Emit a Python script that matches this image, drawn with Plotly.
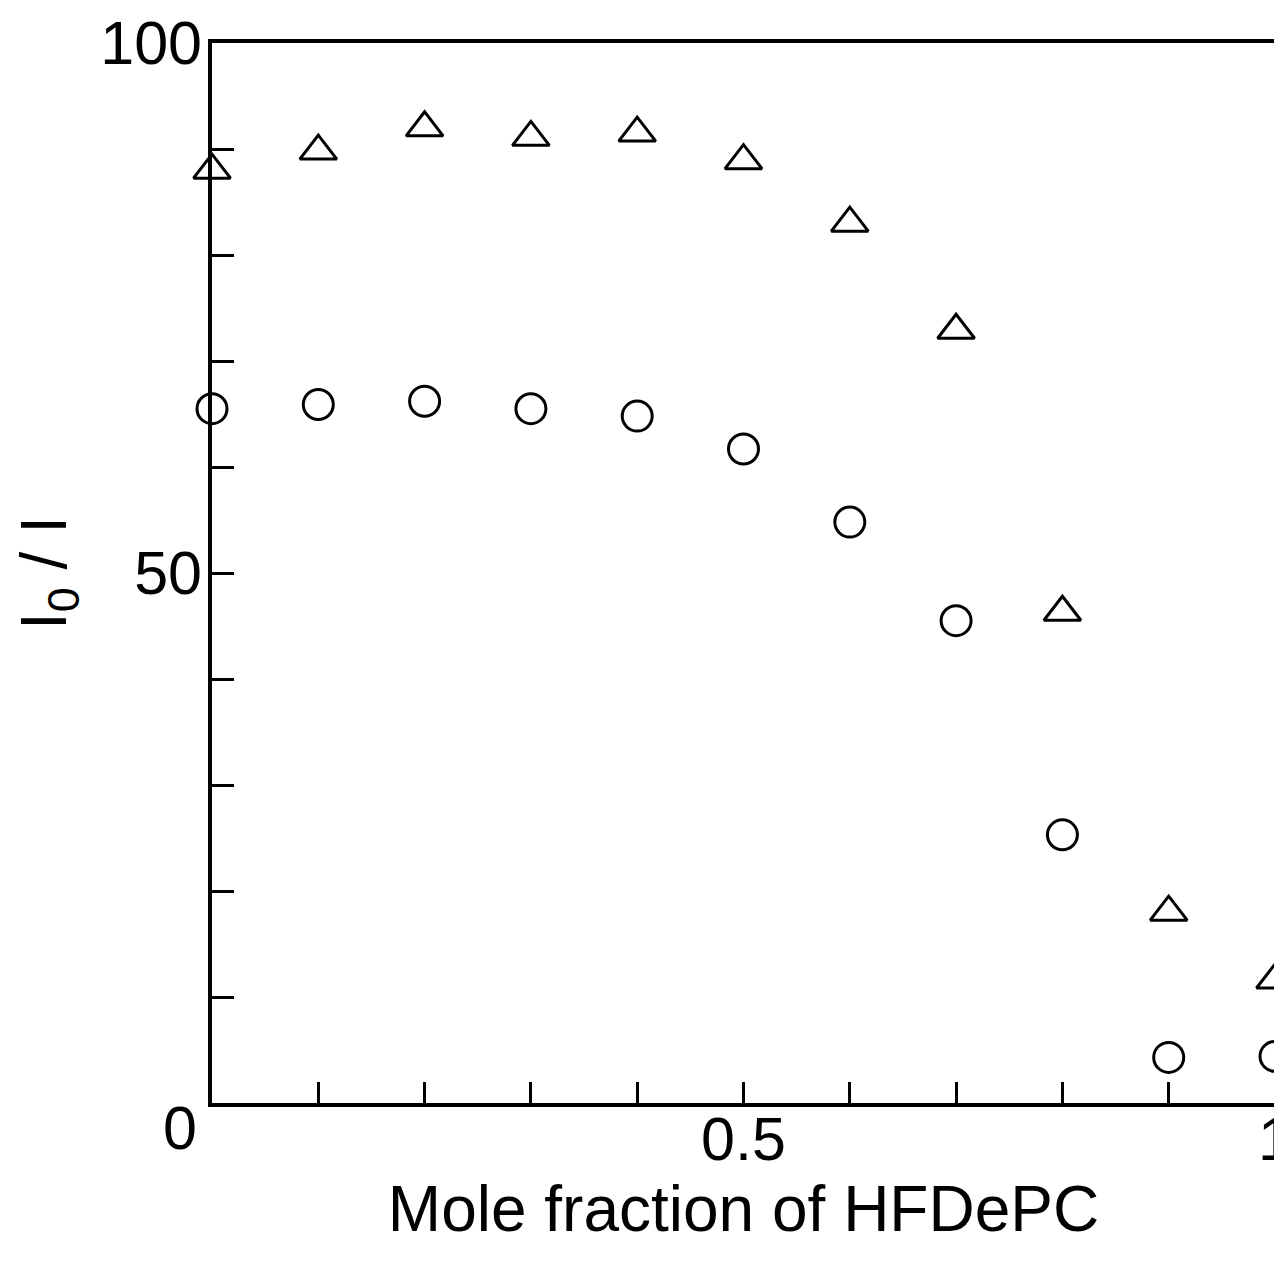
import plotly.graph_objects as go

# Data
mole_fraction = [0.0, 0.1, 0.2, 0.3, 0.4, 0.5, 0.6, 0.7, 0.8, 0.9, 1.0]
series_triangle = [88.0, 89.8, 92.0, 91.1, 91.5, 88.9, 83.0, 72.9, 46.3, 18.0, 11.6]
series_circle = [65.5, 65.9, 66.2, 65.5, 64.8, 61.7, 54.8, 45.5, 25.3, 4.3, 4.4]

y_tickvals = [50, 100]
y_ticktext = ["50", "100"]
x_tickvals = [0.5, 1.0]
x_ticktext = ["0.5", "1"]
origin_label = "0"

FONT = "Liberation Sans, Arial, Helvetica, sans-serif"

fig = go.Figure()
fig.add_trace(go.Scatter(
    x=mole_fraction, y=series_triangle, mode="markers",
    marker=dict(symbol="triangle-up-open", size=32, color="black",
                line=dict(width=3, color="black")),
    showlegend=False, cliponaxis=False,
))
fig.add_trace(go.Scatter(
    x=mole_fraction, y=series_circle, mode="markers",
    marker=dict(symbol="circle-open", size=30, color="black",
                line=dict(width=3, color="black")),
    showlegend=False, cliponaxis=False,
))

fig.update_layout(
    width=1274, height=1254,
    margin=dict(l=204, r=7, t=35, b=159, autoexpand=False),
    paper_bgcolor="white", plot_bgcolor="white",
    font=dict(family=FONT, color="black", size=61),
    xaxis=dict(
        range=[0, 1], tickvals=x_tickvals, ticktext=x_ticktext,
        ticks="inside", ticklen=21, tickwidth=2.5, tickcolor="black",
        minor=dict(tick0=0, dtick=0.1, ticks="inside", ticklen=21,
                   tickwidth=2.5, tickcolor="black", showgrid=False),
        showline=True, linewidth=3.5, linecolor="black", mirror=True,
        showgrid=False, zeroline=False, ticklabelstandoff=-20,
        ticklabeloverflow="allow",
        tickfont=dict(size=61, family=FONT, color="black"),
        title=dict(text="Mole fraction of HFDePC", standoff=0,
                   font=dict(size=64, family=FONT, color="black")),
        automargin=False,
    ),
    yaxis=dict(
        range=[0, 100], tickvals=y_tickvals, ticktext=y_ticktext,
        ticks="inside", ticklen=22, tickwidth=2.5, tickcolor="black",
        minor=dict(tick0=0, dtick=10, ticks="inside", ticklen=22,
                   tickwidth=2.5, tickcolor="black", showgrid=False),
        showline=True, linewidth=3.5, linecolor="black", mirror=True,
        showgrid=False, zeroline=False, ticklabelstandoff=-6,
        ticklabeloverflow="allow",
        tickfont=dict(size=61, family=FONT, color="black"),
        title=dict(text="I<sub>0</sub> / I", standoff=30,
                   font=dict(size=64, family=FONT, color="black")),
        automargin=False,
    ),
    annotations=[dict(
        x=0, y=0, xref="x", yref="y", text=origin_label, showarrow=False,
        xshift=-32, yshift=-25, font=dict(size=61, family=FONT, color="black"),
    )],
)

fig.write_html("out.html")
